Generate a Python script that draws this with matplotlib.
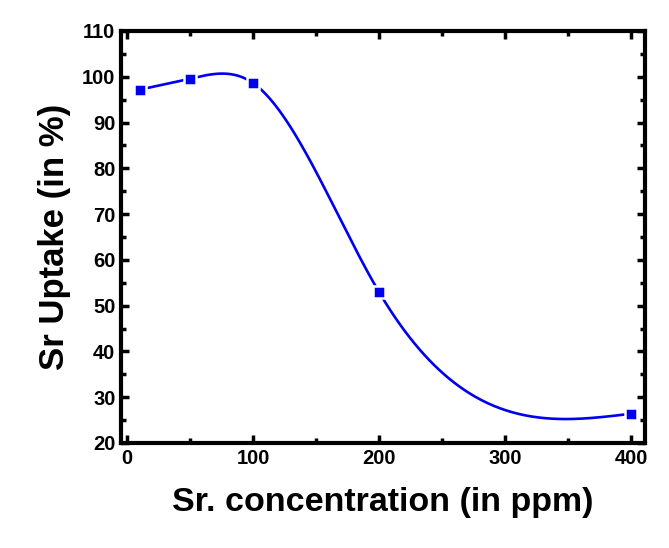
import numpy as np
import matplotlib
matplotlib.use("Agg")
from matplotlib import pyplot as plt
from matplotlib.ticker import MultipleLocator

conc = [10, 50, 100, 200, 400]
uptake = [97.2, 99.6, 98.6, 52.9, 26.4]


def natural_spline(x, y, xs):
    # plain natural cubic spline, used only to draw the smooth line
    x = np.asarray(x, float)
    y = np.asarray(y, float)
    n = len(x)
    h = np.diff(x)
    A = np.zeros((n, n))
    r = np.zeros(n)
    A[0, 0] = A[-1, -1] = 1
    for i in range(1, n - 1):
        A[i, i - 1] = h[i - 1]
        A[i, i] = 2 * (h[i - 1] + h[i])
        A[i, i + 1] = h[i]
        r[i] = 3 * ((y[i + 1] - y[i]) / h[i] - (y[i] - y[i - 1]) / h[i - 1])
    c = np.linalg.solve(A, r)
    b = (y[1:] - y[:-1]) / h - h * (2 * c[:-1] + c[1:]) / 3
    d = (c[1:] - c[:-1]) / (3 * h)
    k = np.clip(np.searchsorted(x, xs) - 1, 0, n - 2)
    t = xs - x[k]
    return y[k] + b[k] * t + c[k] * t ** 2 + d[k] * t ** 3


plt.rcParams['font.family'] = ['Liberation Sans', 'DejaVu Sans']
plt.rcParams['font.weight'] = 'bold'

fig = plt.figure(figsize=(6.69, 5.48), dpi=100)
ax = fig.add_axes([121 / 669, 1 - 443 / 548, (645 - 121) / 669, (443 - 31) / 548])

xs = np.linspace(conc[0], conc[-1], 400)
ax.plot(xs, natural_spline(conc, uptake, xs), color='#0000ee', lw=1.9, zorder=2)
ax.plot(conc, uptake, 's', color='#0000ee', ms=8.5, mec='white', mew=1.8, zorder=3)

ax.set_xlim(-5, 411)
ax.set_ylim(20, 110)
ax.xaxis.set_major_locator(MultipleLocator(100))
ax.xaxis.set_minor_locator(MultipleLocator(50))
ax.yaxis.set_major_locator(MultipleLocator(10))
ax.yaxis.set_minor_locator(MultipleLocator(5))

for s in ax.spines.values():
    s.set_linewidth(3)
ax.tick_params(which='both', direction='in', top=True, right=True, width=2.5, labelsize=14.5, pad=4)
ax.tick_params(which='major', length=6)
ax.tick_params(which='minor', length=3.5)
for lab in ax.get_xticklabels() + ax.get_yticklabels():
    lab.set_fontweight('bold')

ax.set_xlabel('Sr. concentration (in ppm)', fontsize=24.5, fontweight='bold', labelpad=14)
ax.set_ylabel('Sr Uptake (in %)', fontsize=25, fontweight='bold', labelpad=8)

fig.savefig('out.png', dpi=100)
